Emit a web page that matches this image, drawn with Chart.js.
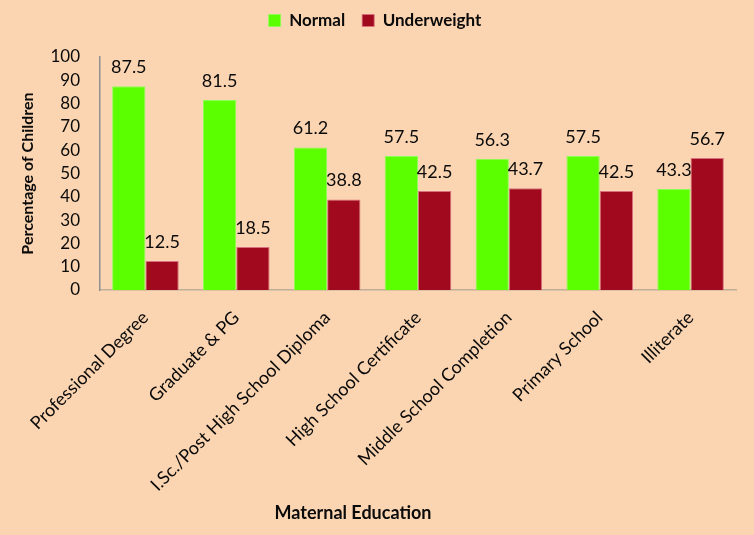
<!DOCTYPE html>
<html>
<head>
<meta charset="utf-8">
<script src="https://cdn.jsdelivr.net/npm/chart.js@4.4.1/dist/chart.umd.min.js"></script>
<style>
  html, body { margin: 0; padding: 0; background: #fbd5b1; }
  #wrap { position: relative; width: 754px; height: 535px; }
</style>
</head>
<body>
<div id="wrap"><canvas id="eduChart"></canvas></div>
<script>
// chart data
const categories = ['Professional Degree', 'Graduate & PG', 'I.Sc./Post High School Diploma',
    'High School Certificate', 'Middle School Completion', 'Primary School', 'Illiterate'];
const normalValues = [87.5, 81.5, 61.2, 57.5, 56.3, 57.5, 43.3];
const underweightValues = [12.5, 18.5, 38.8, 42.5, 43.7, 42.5, 56.7];
const yTicks = [0, 10, 20, 30, 40, 50, 60, 70, 80, 90, 100];

const FONT = "Lato, 'Open Sans', sans-serif";

// plot box edges
const PLOT_LEFT = 100;
const PLOT_TOP = 57;
const PLOT_BOTTOM = 290;
const PAD_LEFT = 14;
const PAD_BOTTOM = 10;
const LEGEND_SHIFT = -18;

// values written above each bar
const barValues = {
    id: 'barValues',
    afterDatasetsDraw(chart) {
        const ctx = chart.ctx;
        ctx.save();
        ctx.font = '18px ' + FONT;
        ctx.fillStyle = '#0a0a0a';
        ctx.textAlign = 'center';
        ctx.textBaseline = 'middle';
        chart.data.datasets.forEach((ds, i) => {
            chart.getDatasetMeta(i).data.forEach((bar, j) => {
                ctx.fillText(ds.data[j].toFixed(1), bar.x, bar.y - 19);
            });
        });
        ctx.restore();
    }
};

// x axis title, centred on the page rather than on the plot area
const xTitle = {
    id: 'xTitle',
    afterDraw(chart) {
        const ctx = chart.ctx;
        ctx.save();
        ctx.font = 'bold 18px ' + FONT;
        ctx.fillStyle = '#0a0a0a';
        ctx.textAlign = 'center';
        ctx.textBaseline = 'middle';
        ctx.fillText('Maternal Education', 353, 513);
        ctx.restore();
    }
};

// the legend sits near the top edge, well above the plot
const legendUp = {
    id: 'legendUp',
    afterLayout(chart) {
        const lg = chart.legend;
        if (!lg) return;
        lg.top += LEGEND_SHIFT;
        lg.bottom += LEGEND_SHIFT;
    }
};

new Chart(document.getElementById('eduChart'), {
    type: 'bar',
    data: {
        labels: categories,
        datasets: [
            {
                label: 'Normal',
                data: normalValues,
                backgroundColor: '#5cff00',
                borderColor: '#8cff55',
                borderWidth: { left: 1, right: 1, top: 1, bottom: 0 },
                categoryPercentage: 0.733,
                barPercentage: 1.0
            },
            {
                label: 'Underweight',
                data: underweightValues,
                backgroundColor: '#a10a1e',
                borderColor: '#d9707f',
                borderWidth: { left: 1, right: 1, top: 1, bottom: 0 },
                categoryPercentage: 0.733,
                barPercentage: 1.0
            }
        ]
    },
    options: {
        responsive: true,
        maintainAspectRatio: false,
        animation: false,
        layout: { padding: { left: PAD_LEFT, right: 18, top: -4, bottom: PAD_BOTTOM } },
        plugins: {
            legend: {
                position: 'top',
                labels: {
                    color: '#0a0a0a',
                    font: { family: FONT, size: 17, weight: 'bold' },
                    boxWidth: 12,
                    boxHeight: 12,
                    padding: 17
                }
            },
            tooltip: { enabled: false }
        },
        scales: {
            x: {
                grid: { display: false, drawTicks: false },
                border: { color: '#bfae98', width: 1.5 },
                ticks: {
                    color: '#0a0a0a',
                    font: { family: FONT, size: 18 },
                    minRotation: 45,
                    maxRotation: 45,
                    autoSkip: false,
                    padding: 17
                },
                afterFit(axis) {
                    axis.height = 535 - PLOT_BOTTOM - PAD_BOTTOM;
                }
            },
            y: {
                min: 0,
                max: 100,
                afterBuildTicks(axis) { axis.ticks = yTicks.map(v => ({ value: v })); },
                grid: { display: false, drawTicks: false },
                border: { color: '#8f8f8f', width: 1.5 },
                ticks: {
                    color: '#0a0a0a',
                    font: { family: FONT, size: 17 },
                    autoSkip: false,
                    padding: 20
                },
                title: {
                    display: true,
                    text: 'Percentage of Children',
                    color: '#0a0a0a',
                    font: { family: FONT, size: 16, weight: 'bold' },
                    padding: { top: 4, bottom: 0 }
                },
                afterFit(axis) {
                    axis.width = PLOT_LEFT - PAD_LEFT;
                    axis.paddingTop = PLOT_TOP;
                }
            }
        }
    },
    plugins: [barValues, xTitle, legendUp]
});
</script>
</body>
</html>
